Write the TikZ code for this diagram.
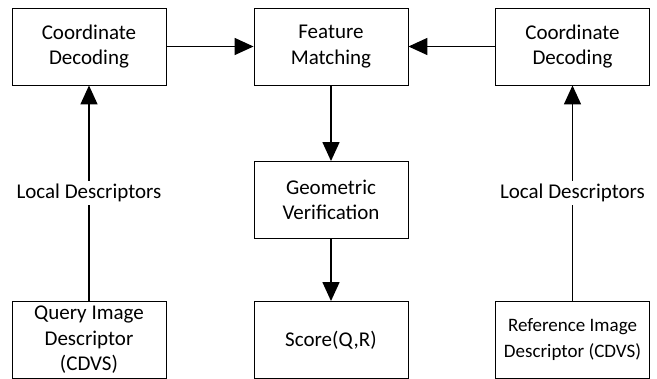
\documentclass[tikz,border=0pt]{standalone}
\usepackage{fontspec}
\setmainfont{Carlito}
\usetikzlibrary{arrows.meta}
\begin{document}
\begin{tikzpicture}[x=1pt,y=-1pt,
  blk/.style={draw, line width=0.9pt, rectangle, minimum width=154pt,
    minimum height=77pt, align=center, inner sep=0pt,
    font=\fontsize{21}{25.5}\selectfont},
  flow/.style={line width=1.5pt, -{Triangle[length=19pt,width=17pt]}},
  lbl/.style={fill=white, inner xsep=2pt, inner ysep=3pt,
    font=\fontsize{21}{25.5}\selectfont}]
\useasboundingbox (0,0) rectangle (657,379);

% processing blocks
\node[blk] (cdL)   at (89,46.5)    {Coordinate\\Decoding};
\node[blk] (fm)    at (331,46.5)   {Feature\\Matching};
\node[blk] (cdR)   at (572.5,46.5) {Coordinate\\Decoding};
\node[blk] (gv)    at (331,200)    {Geometric\\Verification};
\node[blk] (query) at (89,340)     {Query Image\\Descriptor\\(CDVS)};
\node[blk] (score) at (331,340)    {Score(Q,R)};
\node[blk, font=\fontsize{19}{26}\selectfont] (ref) at (572.5,340)
  {Reference Image\\Descriptor (CDVS)};

% data flow
\draw[flow] (query) -- node[lbl] {Local Descriptors} (cdL);
\draw[flow] (ref)   -- node[lbl] {Local Descriptors} (cdR);
\draw[flow] (cdL) -- (fm);
\draw[flow] (cdR) -- (fm);
\draw[flow] (fm) -- (gv);
\draw[flow] (gv) -- (score);
\end{tikzpicture}
\end{document}
